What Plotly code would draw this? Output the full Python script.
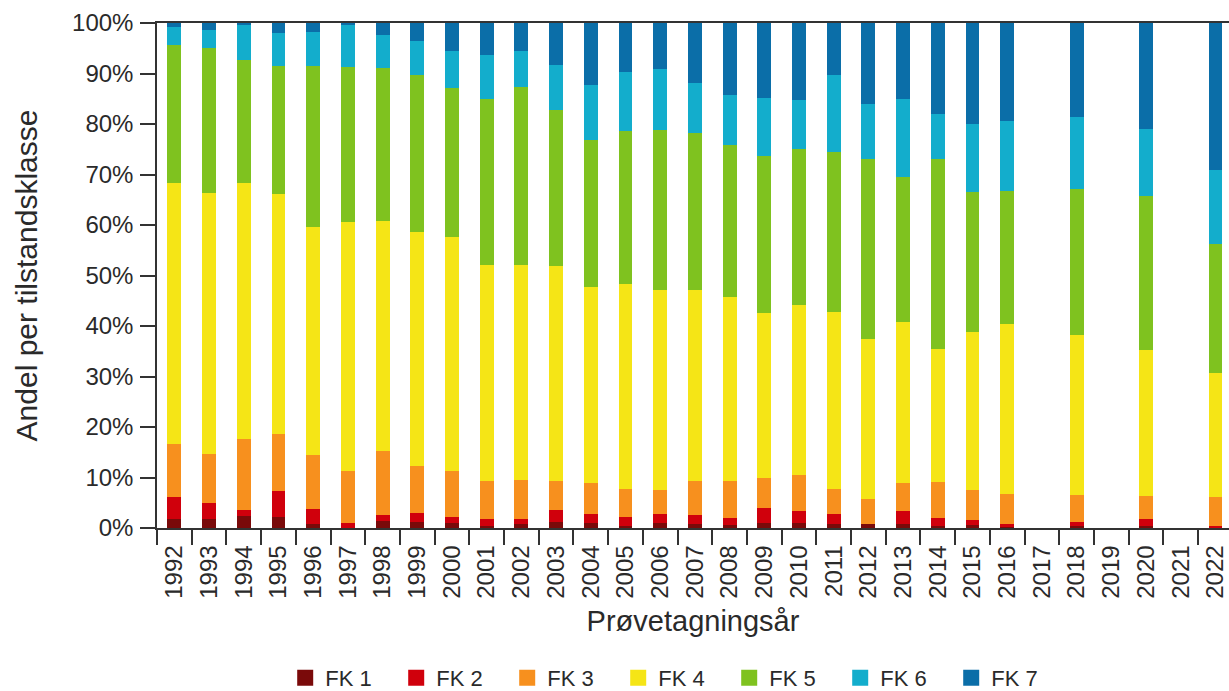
import plotly.graph_objects as go

years = ["1992", "1993", "1994", "1995", "1996", "1997", "1998", "1999", "2000",
         "2001", "2002", "2003", "2004", "2005", "2006", "2007", "2008", "2009",
         "2010", "2011", "2012", "2013", "2014", "2015", "2016", "2017", "2018",
         "2019", "2020", "2021", "2022"]

N = None
fk1 = [1.7, 1.7, 2.3, 2.2, 0.7, 0.0, 1.4, 1.2, 0.9, 0.3, 0.7, 1.2, 1.0, 0.3, 1.0, 0.7,
       0.5, 1.0, 0.9, 0.7, 0.7, 0.7, 0.3, 0.5, 0.2, N, 0.3, N, 0.3, N, 0.0]
fk2 = [4.4, 3.3, 1.3, 5.1, 3.1, 0.9, 1.1, 1.8, 1.2, 1.4, 1.0, 2.4, 1.7, 1.9, 1.8, 1.8,
       1.4, 3.0, 2.5, 2.0, 0.0, 2.7, 1.7, 1.0, 0.5, N, 0.8, N, 1.4, N, 0.3]
fk3 = [10.6, 9.7, 14.0, 11.4, 10.6, 10.4, 12.7, 9.3, 9.2, 7.6, 7.9, 5.8, 6.3, 5.6, 4.7,
       6.9, 7.4, 6.0, 7.0, 5.0, 5.0, 5.6, 7.2, 6.0, 6.1, N, 5.5, N, 4.6, N, 5.8]
fk4 = [51.7, 51.7, 50.8, 47.5, 45.3, 49.3, 45.6, 46.3, 46.3, 42.7, 42.4, 42.5, 38.8,
       40.6, 39.6, 37.7, 36.4, 32.6, 33.8, 35.1, 31.8, 31.8, 26.3, 31.3, 33.5, N, 31.6,
       N, 28.9, N, 24.5]
fk5 = [27.3, 28.7, 24.2, 25.2, 31.7, 30.7, 30.3, 31.2, 29.6, 32.9, 35.3, 30.9, 29.1,
       30.2, 31.8, 31.2, 30.1, 31.0, 30.9, 31.7, 35.5, 28.7, 37.6, 27.7, 26.4, N, 28.9,
       N, 30.5, N, 25.7]
fk6 = [3.5, 3.5, 7.1, 6.6, 6.8, 8.4, 6.6, 6.6, 7.2, 8.7, 7.2, 8.8, 10.9, 11.6, 11.9,
       9.8, 10.0, 11.6, 9.7, 15.3, 10.9, 15.4, 8.8, 13.6, 13.9, N, 14.2, N, 13.4, N, 14.5]
fk7 = [0.8, 1.4, 0.3, 2.0, 1.8, 0.3, 2.3, 3.6, 5.6, 6.4, 5.5, 8.4, 12.2, 9.8, 9.2, 11.9,
       14.2, 14.8, 15.2, 10.2, 16.1, 15.1, 18.1, 19.9, 19.4, N, 18.7, N, 20.9, N, 29.2]

names = ["FK 1", "FK 2", "FK 3", "FK 4", "FK 5", "FK 6", "FK 7"]
series = [fk1, fk2, fk3, fk4, fk5, fk6, fk7]
colors = ["#7a0a0a", "#d0000c", "#f7901e", "#f5e516", "#7fc21f", "#13adcc", "#0b6ea8"]

FONT = "Liberation Sans, Arial, sans-serif"
TXT = "#2a2a2a"

fig = go.Figure()
for name, vals, col in zip(names, series, colors):
    fig.add_trace(go.Bar(x=years, y=vals, name=name, legendgroup=name, showlegend=False,
                         marker=dict(color=col, line=dict(width=0))))
# legend entries with larger square swatches
for name, col in zip(names, colors):
    fig.add_trace(go.Scatter(x=[None], y=[None], mode="markers", name=name,
                             legendgroup=name, showlegend=True,
                             marker=dict(symbol="square", size=18, color=col)))

fig.update_layout(
    barmode="stack",
    bargap=0.6,
    width=1229, height=691,
    margin=dict(l=157, r=0, t=23, b=163, autoexpand=False),
    paper_bgcolor="white", plot_bgcolor="white",
    font=dict(family=FONT, color=TXT, size=21),
    showlegend=True,
    legend=dict(orientation="h", x=0.482, xanchor="center", y=-0.297, yanchor="middle",
                font=dict(size=22, color=TXT), entrywidth=66, entrywidthmode="pixels",
                traceorder="normal", itemsizing="trace"),
)
fig.update_xaxes(
    type="category", range=[-0.5, 30.39], automargin=False,
    showline=True, linecolor="#333", linewidth=1.5, mirror=True,
    ticks="outside", tickson="boundaries", ticklen=15, tickcolor="#333", tickwidth=1.5,
    tickangle=-90, tickfont=dict(size=24, color=TXT), ticklabelstandoff=6,
    showgrid=False,
    title=dict(text="Prøvetagningsår", font=dict(size=29, color=TXT), standoff=13),
)
fig.update_yaxes(
    range=[0, 100], tickvals=[0, 10, 20, 30, 40, 50, 60, 70, 80, 90, 100], automargin=False,
    ticktext=["0%", "10%", "20%", "30%", "40%", "50%", "60%", "70%", "80%", "90%", "100%"],
    showline=True, linecolor="#333", linewidth=1.5,
    ticks="outside", ticklen=15, tickcolor="#333", tickwidth=1.5, ticklabelstandoff=2,
    tickfont=dict(size=24, color=TXT), showgrid=False, zeroline=False,
    title=dict(text="Andel per tilstandsklasse", font=dict(size=30, color=TXT), standoff=26),
)

fig.write_html("out.html", config={"displayModeBar": False},
               post_script="document.body.style.margin='0';")
